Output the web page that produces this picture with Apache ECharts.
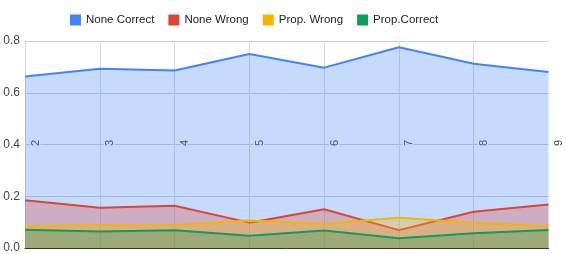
<!DOCTYPE html>
<html>
<head>
<meta charset="utf-8">
<script src="https://cdn.jsdelivr.net/npm/echarts@6/dist/echarts.min.js"></script>
<style>
html,body{margin:0;padding:0;background:#fff;}
#chart{width:566px;height:254px;}
</style>
</head>
<body>
<div id="chart"></div>
<script>
const categories = ['2','3','4','5','6','7','8','9'];
const seriesNames = ['None Correct','None Wrong','Prop. Wrong','Prop.Correct'];
const noneCorrect = [0.663,0.693,0.686,0.750,0.697,0.776,0.712,0.680];
const noneWrong   = [0.185,0.156,0.163,0.098,0.150,0.069,0.140,0.168];
const propWrong   = [0.083,0.088,0.089,0.106,0.094,0.117,0.098,0.083];
const propCorrect = [0.071,0.064,0.069,0.047,0.068,0.038,0.057,0.070];
const yTicks = [0, 0.2, 0.4, 0.6, 0.8];
const colors = ['#4285f4','#db4437','#f4b400','#0f9d58'];
const FONT = 'Liberation Sans';

const values = [noneCorrect, noneWrong, propWrong, propCorrect];
const chart = echarts.init(document.getElementById('chart'));
const series = seriesNames.map((n,i)=>({
  name:n, type:'line', data:values[i], symbol:'none',
  lineStyle:{width:2,color:colors[i]},
  itemStyle:{color:colors[i]},
  areaStyle:{color:colors[i],opacity:0.3},
  z: 3+i
}));
series.push({
  type:'line', data:[], z:1, silent:true,
  markLine:{
    z:1, silent:true, symbol:'none', label:{show:false},
    lineStyle:{color:'#d8d8d8',type:'solid',width:1},
    data: categories.slice(0,-1).map(c=>({xAxis:c}))
  }
});
chart.setOption({
  animation:false,
  color: colors,
  textStyle:{fontFamily:FONT},
  legend:{
    top:9, left:65, itemWidth:11, itemHeight:11, itemGap:14,
    icon:'rect',
    textStyle:{fontSize:11.5,color:'#222',fontFamily:FONT},
    data: seriesNames
  },
  grid:{left:25,right:14,top:41,bottom:4,containLabel:false},
  xAxis:{
    type:'category', boundaryGap:false, data:categories,
    axisLine:{lineStyle:{color:'#333',width:1}},
    axisTick:{show:false},
    splitLine:{show:false},
    axisLabel:{rotate:90, margin:-105, align:'center', verticalAlign:'top',
      padding:[5,0,0,0],
      fontSize:11, fontFamily:FONT, color:'#444', textBorderColor:'#fff', textBorderWidth:3}
  },
  yAxis:{
    type:'value', min:yTicks[0], max:yTicks[yTicks.length-1], interval:0.2,
    axisLine:{show:false}, axisTick:{show:false},
    splitLine:{lineStyle:{color:'#cccccc'}},
    axisLabel:{fontSize:12,color:'#444',margin:5,fontFamily:FONT,
      formatter:v=>v.toFixed(1)}
  },
  series: series
});
</script>
</body>
</html>
